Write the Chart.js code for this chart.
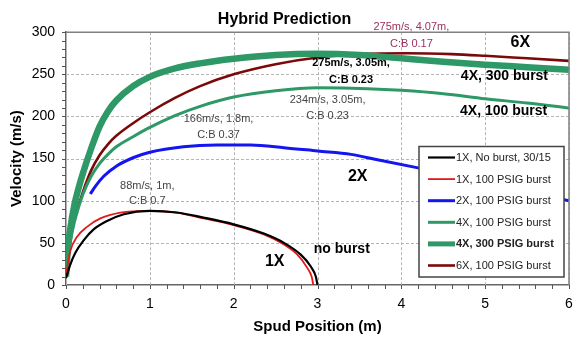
<!DOCTYPE html>
<html>
<head>
<meta charset="utf-8">
<script src="https://cdn.jsdelivr.net/npm/chart.js@4/dist/chart.umd.min.js"></script>
<style>
  body { margin: 0; background: #fff; }
  #wrap { width: 576px; height: 338px; }
</style>
</head>
<body>
<div id="wrap"><canvas id="board"></canvas></div>
<script>
// series values: spud position (m) and velocity (m/s)
const pos1xNoBurst = [0, 0.05, 0.11, 0.21, 0.33, 0.49, 0.69, 1.0, 1.32, 1.64, 2.0, 2.36, 2.6, 2.8, 2.92, 2.98, 3.0];
const vel1xNoBurst = [8, 24, 38, 53, 66, 76, 84, 88, 86, 80, 72, 61, 50, 36, 22, 10, 0];

const pos1x100 = [0, 0.05, 0.13, 0.25, 0.41, 0.65, 1.0, 1.32, 1.64, 2.0, 2.36, 2.6, 2.76, 2.88, 2.93, 2.95];
const vel1x100 = [12, 40, 57, 69, 79, 86, 88, 86, 79, 71, 60, 48, 36, 20, 10, 0];

const pos2x100 = [0.29, 0.35, 0.45, 0.6, 0.8, 1.0, 1.4, 1.8, 2.2, 2.6, 3.0, 3.4, 3.7, 4.2, 4.6, 5.0, 5.5, 6.0];
const vel2x100 = [108, 117, 129, 141, 151, 157.5, 164, 166, 166, 163, 159, 155, 149, 139, 131, 122, 111, 100];

const pos4x100 = [0, 0.03, 0.08, 0.12, 0.2, 0.3, 0.4, 0.5, 0.6, 0.8, 1.0, 1.3, 1.6, 2.0, 2.5, 3.0, 3.6, 4.0, 4.5, 5.0, 5.5, 6.0];
const vel4x100 = [10, 38, 66, 82, 107, 129, 144, 155, 164, 176, 187, 201, 212, 223, 230.5, 234, 233, 231, 227, 221, 216, 210];

const pos4x300 = [0, 0.02, 0.05, 0.1, 0.15, 0.2, 0.3, 0.4, 0.5, 0.6, 0.8, 1.0, 1.3, 1.6, 2.0, 2.5, 3.0, 3.5, 4.0, 4.5, 5.0, 5.5, 6.0];
const vel4x300 = [10, 40, 66, 95, 115, 132, 162, 188, 206, 219, 236, 247, 257, 263, 268.5, 273, 274.5, 273, 269, 265, 261.5, 258.5, 255.5];

const pos6x100 = [0, 0.03, 0.08, 0.12, 0.2, 0.3, 0.4, 0.5, 0.6, 0.8, 1.0, 1.3, 1.6, 2.0, 2.5, 3.0, 3.5, 4.07, 4.6, 5.0, 5.5, 6.0];
const vel6x100 = [12, 40, 68, 84, 110, 136, 154, 167, 177, 192, 205, 222, 236, 250, 262, 270, 274, 275, 274, 272, 269, 266];

const seriesNames = ["1X, No burst, 30/15", "1X, 100 PSIG burst", "2X, 100 PSIG burst",
    "4X, 100 PSIG burst", "4X, 300 PSIG burst", "6X, 100 PSIG burst"];

// text notes on the plot, placed in data units
const notes = [
    { text: "275m/s, 4.07m,", x: 4.12, y: 306, font: "11px", color: "#9c2f5e" },
    { text: "C:B 0.17", x: 4.12, y: 286, font: "11px", color: "#9c2f5e" },
    { text: "6X", x: 5.42, y: 288, font: "bold 16px", color: "#000" },
    { text: "275m/s, 3.05m,", x: 3.40, y: 263, font: "bold 11px", color: "#000" },
    { text: "C:B 0.23", x: 3.40, y: 243, font: "bold 11px", color: "#000" },
    { text: "4X, 300 burst", x: 5.23, y: 248, font: "bold 14px", color: "#000" },
    { text: "234m/s, 3.05m,", x: 3.12, y: 219, font: "11px", color: "#444" },
    { text: "C:B 0.23", x: 3.12, y: 201, font: "11px", color: "#444" },
    { text: "4X, 100 burst", x: 5.22, y: 206, font: "bold 14px", color: "#000" },
    { text: "166m/s, 1.8m,", x: 1.82, y: 196.5, font: "11px", color: "#444" },
    { text: "C:B 0.37", x: 1.82, y: 178, font: "11px", color: "#444" },
    { text: "2X", x: 3.48, y: 129, font: "bold 16px", color: "#000" },
    { text: "88m/s, 1m,", x: 0.97, y: 117.5, font: "11px", color: "#444" },
    { text: "C:B 0.7", x: 0.97, y: 99.5, font: "11px", color: "#444" },
    { text: "1X", x: 2.49, y: 27.5, font: "bold 16px", color: "#000" },
    { text: "no burst", x: 3.29, y: 42.5, font: "bold 14px", color: "#000" }
];

const FONT = "'Liberation Sans', Arial, sans-serif";

function toPoints(xs, ys) {
    return xs.map((x, i) => ({ x: x, y: ys[i] }));
}

function isWhole(v, step) {
    const r = v / step;
    return Math.abs(r - Math.round(r)) < 1e-6;
}

// dashed major grid + small tick marks, from the scales' own ticks
const gridPlugin = {
    id: 'dashGrid',
    beforeDatasetsDraw(chart) {
        const { ctx, chartArea: a, scales: { x, y } } = chart;
        const line = (x1, y1, x2, y2) => {
            ctx.beginPath();
            ctx.moveTo(x1, y1);
            ctx.lineTo(x2, y2);
            ctx.stroke();
        };
        ctx.save();
        ctx.lineWidth = 1;
        ctx.strokeStyle = '#b4b4b4';
        ctx.setLineDash([3, 2]);
        x.ticks.forEach(t => {
            if (!isWhole(t.value, 1)) return;
            const px = Math.round(x.getPixelForValue(t.value)) + 0.5;
            line(px, a.top, px, a.bottom);
        });
        y.ticks.forEach(t => {
            if (!isWhole(t.value, 50)) return;
            const py = Math.round(y.getPixelForValue(t.value)) + 0.5;
            line(a.left, py, a.right, py);
        });
        ctx.setLineDash([]);
        ctx.strokeStyle = '#555';
        x.ticks.forEach(t => {
            const px = Math.round(x.getPixelForValue(t.value)) + 0.5;
            line(px, a.bottom, px, a.bottom + 4);
        });
        y.ticks.forEach(t => {
            const py = Math.round(y.getPixelForValue(t.value)) + 0.5;
            line(a.left - 4, py, a.left, py);
        });
        ctx.restore();
    }
};

// frame on top and right of the plot
const framePlugin = {
    id: 'frame',
    afterDraw(chart) {
        const { ctx, chartArea: a } = chart;
        ctx.save();
        ctx.strokeStyle = '#808080';
        ctx.lineWidth = 1.5;
        ctx.beginPath();
        ctx.moveTo(a.left, a.top);
        ctx.lineTo(a.right, a.top);
        ctx.lineTo(a.right, a.bottom);
        ctx.stroke();
        ctx.restore();
    }
};

// boxed legend inside the plot, lower right
const boxLegend = {
    id: 'boxLegend',
    afterDatasetsDraw(chart) {
        const ctx = chart.ctx;
        const left = 419, top = 146.5, w = 145, h = 130.5;
        ctx.save();
        ctx.fillStyle = '#fff';
        ctx.fillRect(left, top, w, h);
        ctx.strokeStyle = '#444';
        ctx.lineWidth = 1.5;
        ctx.strokeRect(left, top, w, h);
        chart.data.datasets.forEach((ds, i) => {
            const y = top + 11 + i * 21.6;
            ctx.strokeStyle = ds.borderColor;
            ctx.lineWidth = Math.min(ds.borderWidth, 5);
            ctx.beginPath();
            ctx.moveTo(428, y);
            ctx.lineTo(455, y);
            ctx.stroke();
            ctx.fillStyle = '#222';
            ctx.font = (ds.borderWidth > 4 ? 'bold ' : '') + '11px ' + FONT;
            ctx.textAlign = 'left';
            ctx.textBaseline = 'middle';
            ctx.fillText(ds.label, 456, y + 0.5);
        });
        ctx.restore();
    }
};

const notesPlugin = {
    id: 'notes',
    afterDraw(chart) {
        const ctx = chart.ctx;
        const xs = chart.scales.x, ys = chart.scales.y;
        ctx.save();
        ctx.textAlign = 'center';
        ctx.textBaseline = 'middle';
        notes.forEach(n => {
            ctx.font = n.font + ' ' + FONT;
            ctx.fillStyle = n.color;
            ctx.fillText(n.text, xs.getPixelForValue(n.x), ys.getPixelForValue(n.y));
        });
        ctx.restore();
    }
};

function makeChart() {
    const colors = ['#000000', '#e3191c', '#1515f0', '#2e9966', '#2e9966', '#7a0a0a'];
    const widths = [2.2, 1.8, 3, 3, 6.5, 2.6];
    const sets = [
        toPoints(pos1xNoBurst, vel1xNoBurst),
        toPoints(pos1x100, vel1x100),
        toPoints(pos2x100, vel2x100),
        toPoints(pos4x100, vel4x100),
        toPoints(pos4x300, vel4x300),
        toPoints(pos6x100, vel6x100)
    ];

    const data = {
        datasets: sets.map((pts, i) => ({
            label: seriesNames[i],
            data: pts,
            borderColor: colors[i],
            backgroundColor: colors[i],
            borderWidth: widths[i],
            pointRadius: 0,
            cubicInterpolationMode: 'monotone',
            fill: false
        }))
    };

    const config = {
        type: 'line',
        data: data,
        options: {
            responsive: true,
            maintainAspectRatio: false,
            animation: false,
            layout: { padding: { left: 0, right: 7, top: 0, bottom: 0 } },
            plugins: {
                legend: { display: false },
                tooltip: { enabled: false },
                title: {
                    display: true,
                    text: 'Hybrid Prediction',
                    color: '#000',
                    font: { family: FONT, size: 16, weight: 'bold' },
                    padding: { top: 10, bottom: 3 }
                }
            },
            scales: {
                x: {
                    type: 'linear',
                    min: 0,
                    max: 6,
                    afterFit: s => {
                        s.height = 53;
                        s.paddingLeft = 0;
                        s.paddingRight = 0;
                    },
                    ticks: {
                        stepSize: 0.2,
                        autoSkip: false,
                        maxRotation: 0,
                        padding: 7,
                        color: '#000',
                        font: { family: FONT, size: 14 },
                        callback: v => isWhole(v, 1) ? Math.round(v) : ''
                    },
                    grid: { display: false, tickLength: 4 },
                    border: { color: '#666', width: 1.5 },
                    title: {
                        display: true,
                        text: 'Spud Position (m)',
                        color: '#000',
                        font: { family: FONT, size: 15, weight: 'bold' },
                        padding: { top: 0, bottom: 2 }
                    }
                },
                y: {
                    min: 0,
                    max: 300,
                    afterFit: s => { s.width = 66; },
                    ticks: {
                        stepSize: 10,
                        autoSkip: false,
                        padding: 7,
                        color: '#000',
                        font: { family: FONT, size: 14 },
                        callback: v => v % 50 === 0 ? v : ''
                    },
                    grid: { display: false, tickLength: 4 },
                    border: { color: '#666', width: 1.5 },
                    title: {
                        display: true,
                        text: 'Velocity (m/s)',
                        color: '#000',
                        font: { family: FONT, size: 15, weight: 'bold' },
                        padding: { top: 8, bottom: 0 }
                    }
                }
            }
        },
        plugins: [gridPlugin, framePlugin, boxLegend, notesPlugin]
    };

    new Chart(document.getElementById('board').getContext('2d'), config);
}

document.addEventListener('DOMContentLoaded', makeChart);
</script>
</body>
</html>
